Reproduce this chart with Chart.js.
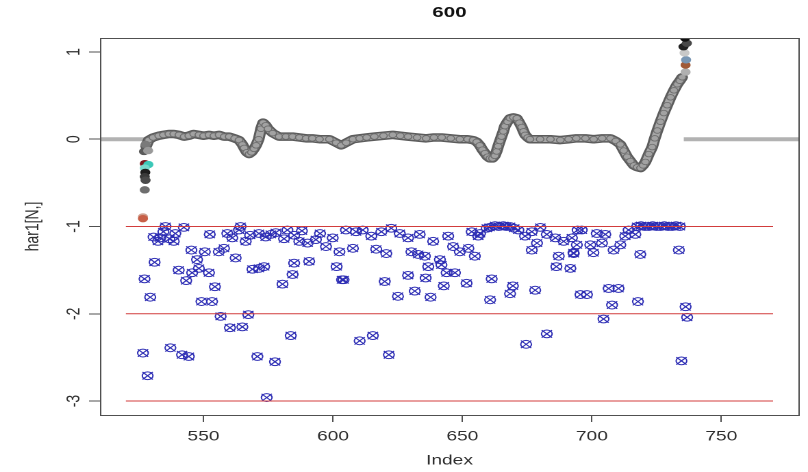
<!DOCTYPE html>
<html>
<head>
<meta charset="utf-8">
<script src="https://cdn.jsdelivr.net/npm/chart.js@4/dist/chart.umd.min.js"></script>
<style>
  html, body { margin: 0; padding: 0; background: #ffffff; overflow: hidden; }
  #wrap { width: 590px; height: 472px; transform: scaleX(1.369492); transform-origin: 0 0; }
  #c { display: block; }
</style>
</head>
<body>
<div id="wrap"><canvas id="c" width="590" height="472" style="width:590px;height:472px"></canvas></div>
<script>
// ---------------- data ----------------
const titleText = '600';
const xAxisLabel = 'Index';
const yAxisLabel = 'har1[N,]';
const xTicks = [550, 600, 650, 700, 750];
const yTicks = [1, 0, -1, -2, -3];
const xLimits = [510, 780];
const yLimits = [-3.16, 1.16];

const refLevels = [-1, -2, -3];
const refRange = [520, 770];

const leftFlatX = [505, 527.5];
const leftFlatY = [0, 0];
const rightFlatX = [735.5, 785];
const rightFlatY = [0, 0];

const curveX = [527.8, 528.8, 530.5, 532.7, 534.5, 536.6, 538.5, 540.5, 542.5, 544.3,
  546.2, 548.2, 550.0, 552.1, 554.0, 556.0, 558.0, 559.9, 562.0, 563.7,
  565.0, 565.7, 566.7, 567.6, 568.5, 569.5, 570.3, 571.3, 572.2, 573.0,
  574.0, 574.9, 576.7, 579.2, 581.8, 584.4, 587.0, 589.6, 592.0, 594.8,
  598.6, 601.2, 603.2, 605.1, 607.7, 610.3, 613.0, 616.0, 619.5, 623.1,
  626.0, 629.0, 632.5, 636.0, 639.0, 642.0, 645.5, 649.0, 652.0, 654.1,
  655.5, 656.7, 657.7, 658.7, 659.7, 660.6, 661.6, 662.5, 663.2, 663.8,
  664.5, 665.1, 665.8, 666.4, 667.4, 668.4, 669.7, 671.0, 672.0, 672.9,
  673.6, 674.2, 675.2, 676.1, 680.0, 684.0, 687.8, 691.0, 694.0, 697.5,
  700.7, 704.0, 707.2, 709.2, 711.0, 712.3, 713.6, 714.9, 716.2, 717.5,
  718.8, 719.8, 720.7, 722.0, 723.3, 724.3, 725.3, 726.5, 727.8, 729.1,
  730.4, 731.7, 733.0, 734.0, 734.9];
const curveY = [-0.08, -0.01, 0.02, 0.04, 0.05, 0.06, 0.06, 0.05, 0.03, 0.04,
  0.06, 0.05, 0.04, 0.05, 0.04, 0.05, 0.03, 0.03, 0.01, -0.01,
  -0.06, -0.10, -0.15, -0.17, -0.15, -0.11, -0.07, 0.00, 0.12, 0.19,
  0.16, 0.12, 0.07, 0.03, 0.03, 0.03, 0.02, 0.01, 0.01, 0.00,
  0.00, -0.04, -0.07, -0.04, 0.00, 0.01, 0.02, 0.03, 0.04, 0.05,
  0.04, 0.03, 0.02, 0.01, 0.02, 0.02, 0.01, 0.00, 0.00, -0.01,
  -0.03, -0.07, -0.12, -0.16, -0.20, -0.22, -0.22, -0.19, -0.14, -0.08,
  -0.02, 0.03, 0.09, 0.15, 0.20, 0.24, 0.25, 0.24, 0.19, 0.14,
  0.09, 0.05, 0.02, 0.00, 0.00, 0.00, -0.01, 0.00, 0.01, 0.01,
  0.00, 0.01, 0.01, -0.02, -0.06, -0.13, -0.20, -0.25, -0.30, -0.32,
  -0.33, -0.30, -0.26, -0.17, -0.09, 0.01, 0.10, 0.20, 0.30, 0.39,
  0.48, 0.56, 0.63, 0.67, 0.71];

const spotX = [527.6, 527.0, 528.6, 527.3, 528.7, 527.3, 527.5, 527.3, 527.6, 527.3, 526.6, 526.6,
  736.2, 736.2, 736.4, 735.8, 735.4, 736.7, 736.0];
const spotY = [-0.06, -0.14, -0.13, -0.28, -0.29, -0.33, -0.38, -0.43, -0.47, -0.58, -0.89, -0.91,
  0.77, 0.85, 0.91, 0.99, 1.06, 1.10, 1.16];
const spotColors = ['#7a7a7a', '#5a5a5a', '#9a9a9a', '#7a1a20', '#3cc8b8', '#78d8cc', '#1e1e1e', '#3a3a3a', '#4a4a4a', '#6e6e6e', '#d0a090', '#c86048',
  '#b0b0b0', '#a05a38', '#7896b4', '#c8c8c8', '#202020', '#484848', '#101010'];

const crossX = [535.3, 542.4, 530.7, 533.3, 532.4, 538.5, 539.1, 552.4, 559.2, 563.7,
  561.1, 566.3, 564.3, 571.4, 576.0, 577.9, 581.1, 582.4, 587.0, 590.2,
  593.4, 597.3, 599.9, 602.5, 605.0, 545.3, 550.5, 555.9, 557.9, 562.4,
  547.5, 548.2, 552.1, 545.6, 531.1, 540.4, 543.3, 527.2, 529.4, 554.4,
  568.9, 571.4, 573.4, 585.0, 590.8, 580.5, 584.4, 601.4, 603.5, 549.2,
  553.3, 556.6, 567.3, 560.2, 565.0, 583.7, 526.6, 537.2, 541.7, 544.3,
  570.8, 577.6, 528.4, 574.4, 534.5, 536.8, 568.0, 574.0, 585.0, 595.0,
  588.0,
  608.9, 611.5, 614.8, 618.7, 622.5, 625.8, 607.7, 616.7, 620.6, 604.1,
  629.0, 633.5, 638.7, 644.5, 630.3, 632.9, 635.5, 636.8, 641.3, 641.9,
  646.4, 649.0, 652.3, 654.8, 643.9, 647.1, 620.0, 629.0, 635.8, 642.8,
  651.6, 625.1, 631.6, 637.7, 653.6, 656.8, 659.4, 662.6, 665.8, 668.4,
  671.6, 674.2, 676.8, 680.1, 682.6, 685.9, 689.1, 692.3, 694.5, 656.1,
  676.8, 678.8, 687.2, 686.3, 691.7, 693.0, 661.3, 669.5, 668.4, 678.1,
  660.7, 695.6, 610.3, 615.4, 621.6, 674.6, 682.6, 664.0, 667.0, 660.5,
  670.0,
  696.1, 701.9, 705.2, 694.2, 692.9, 699.4, 700.6, 703.9, 708.4, 711.0,
  712.9, 714.2, 716.8, 718.7, 733.6, 698.1, 706.5, 710.3, 707.8, 717.8,
  704.5, 736.2, 736.8, 734.6, 717.5, 719.0, 720.5, 722.0, 723.5, 725.0,
  726.5, 728.0, 729.5, 731.0, 732.5, 734.0];
const crossY = [-1.00, -1.01, -1.12, -1.13, -1.17, -1.17, -1.08, -1.09, -1.08, -1.04,
  -1.13, -1.17, -1.00, -1.08, -1.09, -1.07, -1.14, -1.04, -1.17, -1.19,
  -1.15, -1.23, -1.13, -1.29, -1.04, -1.27, -1.29, -1.29, -1.25, -1.36,
  -1.38, -1.48, -1.53, -1.53, -1.41, -1.50, -1.62, -1.60, -1.81, -1.69,
  -1.49, -1.48, -1.46, -1.42, -1.40, -1.66, -1.55, -1.46, -1.61, -1.86,
  -1.86, -2.03, -2.01, -2.16, -2.15, -2.25, -2.45, -2.39, -2.47, -2.49,
  -2.49, -2.55, -2.71, -2.96, -1.06, -1.14, -1.10, -1.12, -1.10, -1.08,
  -1.05,
  -1.06, -1.04, -1.11, -1.06, -1.02, -1.08, -1.25, -1.26, -1.31, -1.61,
  -1.13, -1.09, -1.17, -1.11, -1.29, -1.32, -1.34, -1.46, -1.38, -1.44,
  -1.23, -1.29, -1.25, -1.34, -1.53, -1.53, -1.63, -1.56, -1.59, -1.68,
  -1.65, -1.80, -1.74, -1.81, -1.06, -1.08, -1.02, -0.99, -0.99, -1.00,
  -1.04, -1.11, -1.06, -1.01, -1.09, -1.13, -1.17, -1.13, -1.04, -1.11,
  -1.27, -1.19, -1.34, -1.46, -1.48, -1.31, -1.60, -1.68, -1.77, -1.73,
  -1.84, -1.78, -2.31, -2.25, -2.47, -2.35, -2.23, -1.00, -1.00, -1.01,
  -1.02,
  -1.04, -1.08, -1.09, -1.21, -1.30, -1.21, -1.30, -1.19, -1.27, -1.21,
  -1.11, -1.04, -1.09, -1.32, -1.27, -1.78, -1.71, -1.71, -1.90, -1.86,
  -2.06, -1.92, -2.04, -2.54, -1.00, -0.99, -1.00, -1.00, -0.99, -1.00,
  -1.00, -0.99, -1.00, -1.00, -0.99, -1.00];

// ---------------- build chart ----------------
const pts = (xs, ys) => xs.map((x, i) => ({ x: x, y: ys[i] }));
const FONT = "'Liberation Sans', Arial, Helvetica, sans-serif";
const TEXT = '#2e2e2e';
const AXIS = '#505050';

const datasets = [];
refLevels.forEach((lv) => {
  datasets.push({
    type: 'line', data: [{ x: refRange[0], y: lv }, { x: refRange[1], y: lv }],
    borderColor: '#d23c3c', borderWidth: 1, pointRadius: 0, order: 1, clip: 0
  });
});
datasets.push({
  type: 'scatter', data: pts(crossX, crossY), pointStyle: 'crossRot', pointRadius: 5.3,
  borderColor: '#2d2db4', borderWidth: 1, backgroundColor: 'transparent', order: 2, clip: 0
});
datasets.push({
  type: 'scatter', data: pts(crossX, crossY), pointStyle: 'circle', pointRadius: 3.9,
  borderColor: '#2d2db4', borderWidth: 1, backgroundColor: 'rgba(255,255,255,0)', order: 3, clip: 0
});
datasets.push({
  type: 'scatter', data: pts(spotX, spotY), pointStyle: 'circle', pointRadius: 3.2,
  backgroundColor: spotColors, borderColor: spotColors, borderWidth: 1, order: 4, clip: 0
});
datasets.push({
  type: 'line', data: pts(curveX, curveY), borderColor: '#a6a6a6', borderWidth: 5.5,
  pointRadius: 2.8, pointBackgroundColor: '#a2a2a2', pointBorderColor: '#6c6c6c', pointBorderWidth: 0.8,
  borderJoinStyle: 'round', borderCapStyle: 'round', tension: 0, order: 5, clip: 0
});
datasets.push({
  type: 'line', data: pts(curveX, curveY), borderColor: '#5c5c5c', borderWidth: 8.5,
  pointRadius: 0, borderJoinStyle: 'round', borderCapStyle: 'round', tension: 0, order: 6, clip: 0
});
datasets.push({
  type: 'line', data: pts(leftFlatX, leftFlatY), borderColor: '#b2b2b2', borderWidth: 4,
  pointRadius: 0, order: 7, clip: 0
});
datasets.push({
  type: 'line', data: pts(rightFlatX, rightFlatY), borderColor: '#b2b2b2', borderWidth: 4,
  pointRadius: 0, order: 7, clip: 0
});

const decor = {
  id: 'decor',
  afterDraw(chart) {
    const ctx = chart.ctx;
    const a = chart.chartArea;
    const ys = chart.scales.y;
    ctx.save();
    // plot box
    ctx.strokeStyle = AXIS;
    ctx.lineWidth = 1;
    ctx.strokeRect(Math.round(a.left) + 0.5, Math.round(a.top) + 0.5,
      Math.round(a.right - a.left), Math.round(a.bottom - a.top));
    // title
    ctx.fillStyle = '#111';
    ctx.font = "bold 15px " + FONT;
    ctx.textAlign = 'center';
    ctx.textBaseline = 'middle';
    ctx.fillText(titleText, (a.left + a.right) / 2, 13);
    // rotated y tick labels
    ctx.fillStyle = TEXT;
    ctx.font = "14px " + FONT;
    yTicks.forEach((v) => {
      const y = ys.getPixelForValue(v);
      ctx.save();
      ctx.translate(a.left - 19, y);
      ctx.rotate(-Math.PI / 2);
      ctx.fillText(String(v), 0, 0);
      ctx.restore();
    });
    ctx.restore();
  }
};

new Chart(document.getElementById('c'), {
  type: 'scatter',
  data: { datasets: datasets },
  options: {
    responsive: false,
    devicePixelRatio: 2,
    animation: false,
    events: [],
    layout: { padding: { top: 38, right: 6.6, left: 0, bottom: 0 } },
    plugins: { legend: { display: false }, tooltip: { enabled: false }, title: { display: false } },
    scales: {
      x: {
        type: 'linear', position: 'bottom', min: xLimits[0], max: xLimits[1],
        afterBuildTicks: (s) => { s.ticks = xTicks.map((v) => ({ value: v })); },
        afterFit: (s) => { s.height = 57; },
        grid: { display: true, drawOnChartArea: false, drawTicks: true, tickLength: 7, color: AXIS, lineWidth: 1 },
        border: { display: false },
        ticks: { padding: 6, color: TEXT, font: { family: FONT, size: 14 }, maxRotation: 0, minRotation: 0 },
        title: { display: true, text: xAxisLabel, color: TEXT, font: { family: FONT, size: 14 }, padding: { top: 0, bottom: 3 } }
      },
      y: {
        type: 'linear', position: 'left', min: yLimits[0], max: yLimits[1],
        afterBuildTicks: (s) => { s.ticks = yTicks.map((v) => ({ value: v })); },
        afterFit: (s) => { s.width = 73; },
        grid: { display: true, drawOnChartArea: false, drawTicks: true, tickLength: 8, color: AXIS, lineWidth: 1 },
        border: { display: false },
        ticks: { display: false },
        title: { display: true, text: yAxisLabel, color: TEXT, font: { family: FONT, size: 14 }, padding: { top: 15.6, bottom: 0 } }
      }
    }
  },
  plugins: [decor]
});
</script>
</body>
</html>
